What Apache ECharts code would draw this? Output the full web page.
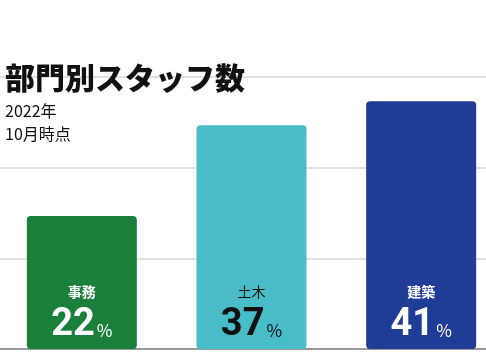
<!DOCTYPE html>
<html><head><meta charset="utf-8">
<script src="https://cdn.jsdelivr.net/npm/echarts@6/dist/echarts.min.js"></script>
<style>html,body{margin:0;padding:0;background:#fff}#c{width:486px;height:358px}</style>
</head><body><div id="c"></div>
<script>
const categories = ['事務', '土木', '建築'];
const values = [22, 37, 41];
const barColors = ['#1a7f3a', '#48bcc7', '#1f3c96'];
const labelColors = ['#ffffff', '#111111', '#ffffff'];
const titleText = '部門別スタッフ数';
const subText = '2022年\n10月時点';

const chart = echarts.init(document.getElementById('c'));
const font = '"Noto Sans CJK JP", "Noto Sans", sans-serif';
chart.setOption({
  animation: false,
  title: {
    text: titleText, subtext: subText, left: 0, top: 58, itemGap: 6,
    textStyle: { fontFamily: font, fontSize: 30, fontWeight: 900, color: '#111' },
    subtextStyle: { fontFamily: font, fontSize: 16, color: '#111', lineHeight: 23 }
  },
  grid: { left: -3, width: 509, top: 77, bottom: 9, outerBoundsMode: 'none', containLabel: false },
  xAxis: {
    type: 'category', data: categories,
    axisLine: { lineStyle: { color: '#999', width: 2 } },
    axisTick: { show: false }, axisLabel: { show: false }
  },
  yAxis: {
    type: 'value', min: 0, max: 45, interval: 15,
    axisLine: { show: false }, axisTick: { show: false }, axisLabel: { show: false },
    splitLine: { show: true, lineStyle: { color: '#e2e2e2', width: 2 } }
  },
  series: [{
    type: 'bar', barWidth: 110, z: 3,
    data: values.map((v, i) => ({
      value: v,
      itemStyle: { color: barColors[i], borderRadius: 4 },
      label: {
        color: labelColors[i],
        formatter: '{c|' + categories[i] + '}\n{n|' + v + '}{p|%}',
        rich: {
          c: { fontFamily: font, fontSize: 14, fontWeight: i === 1 ? 'normal' : 'bold', color: labelColors[i], lineHeight: 20, padding: [0, 0, 7, 0] },
          n: { fontFamily: 'Roboto, sans-serif', fontSize: 38, fontWeight: 'bold', color: labelColors[i], lineHeight: 40 },
          p: { fontFamily: font, fontSize: 17, color: labelColors[i], padding: [12, 0, 0, 2] }
        }
      }
    })),
    label: { show: true, position: 'insideBottom', distance: 4 }
  }]
});
</script></body></html>
